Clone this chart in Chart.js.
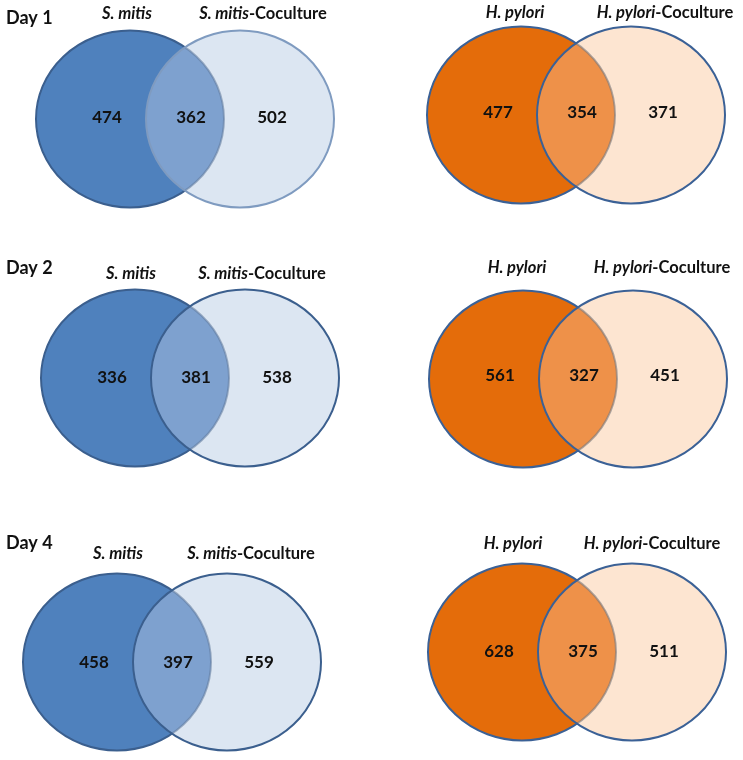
<!DOCTYPE html>
<html>
<head>
<meta charset="utf-8">
<script src="https://cdn.jsdelivr.net/npm/chart.js@4.4.0/dist/chart.umd.min.js"></script>
<style>
  html, body { margin: 0; padding: 0; background: #fff; }
  canvas { display: block; }
</style>
</head>
<body>
<canvas id="venn" width="743" height="760"></canvas>
<script>
// counts per day (Day 1, Day 2, Day 4)
const days = ['Day 1', 'Day 2', 'Day 4'];
const organisms = ['S. mitis', 'H. pylori'];
const mitisOnly = [474, 336, 458];
const mitisShared = [362, 381, 397];
const mitisCocultureOnly = [502, 538, 559];
const pyloriOnly = [477, 561, 628];
const pyloriShared = [354, 327, 375];
const pyloriCocultureOnly = [371, 451, 511];

// panel placement (page pixels), one per day x organism
const panels = [
  {day: 0, org: 0, cx: 130, cy: 119, ty: 14, tx: 127, cox: 263, ny: -1, bStroke: '#7f9bc0'},
  {day: 0, org: 1, cx: 521, cy: 115, ty: 13, tx: 515, cox: 665, ny: -2},
  {day: 1, org: 0, cx: 135, cy: 378, ty: 274, tx: 131, cox: 262, ny: 0},
  {day: 1, org: 1, cx: 523, cy: 379, ty: 268, tx: 517, cox: 662, ny: -3},
  {day: 2, org: 0, cx: 117, cy: 662, ty: 554, tx: 118, cox: 251, ny: 1},
  {day: 2, org: 1, cx: 522, cy: 652, ty: 544, tx: 513, cox: 652, ny: 0},
];
const dayLabelY = [18, 268, 543];
const RX = 94, RY = 88.5, DX = 110;

const palette = [
  {a: '#4f81bd', b: '#dce6f2', i: '#7ea1cf', stroke: '#3b5f8e', inner: 'rgba(95,120,155,0.55)'},
  {a: '#e46c0a', b: '#fde5d1', i: '#ee9149', stroke: '#3b6196', inner: 'rgba(120,120,125,0.6)'},
];

function countsFor(p) {
  if (p.org === 0) return [mitisOnly[p.day], mitisShared[p.day], mitisCocultureOnly[p.day]];
  return [pyloriOnly[p.day], pyloriShared[p.day], pyloriCocultureOnly[p.day]];
}

const circlePoints = [];
const labelPoints = [];
panels.forEach((p, k) => {
  circlePoints.push({x: p.cx, y: p.cy, panel: k, side: 0});
  circlePoints.push({x: p.cx + DX, y: p.cy, panel: k, side: 1});
  const c = countsFor(p);
  [-23, 61, 142].forEach((off, j) => {
    labelPoints.push({x: p.cx + off, y: p.cy + p.ny, v: c[j]});
  });
});

function ellipse(ctx, chart, pt) {
  const xs = chart.scales.x, ys = chart.scales.y;
  const px = xs.getPixelForValue(pt.x), py = ys.getPixelForValue(pt.y);
  const rx = xs.getPixelForValue(pt.x + RX) - px;
  const ry = ys.getPixelForValue(pt.y + RY) - py;
  ctx.beginPath();
  ctx.ellipse(px, py, Math.abs(rx), Math.abs(ry), 0, 0, Math.PI * 2);
}

const vennPlugin = {
  id: 'venn',
  beforeDatasetsDraw(chart) {
    const ctx = chart.ctx;
    const circles = chart.data.datasets[0].data;
    for (let k = 0; k < panels.length; k++) {
      const p = panels[k];
      const col = palette[p.org];
      const A = circles[2 * k], B = circles[2 * k + 1];
      ctx.save();
      ctx.lineWidth = 2;
      ellipse(ctx, chart, A); ctx.fillStyle = col.a; ctx.fill();
      ellipse(ctx, chart, B); ctx.fillStyle = col.b; ctx.fill();
      // overlap
      ctx.save();
      ellipse(ctx, chart, A); ctx.clip();
      ellipse(ctx, chart, B); ctx.fillStyle = col.i; ctx.fill();
      ctx.restore();
      // outlines: first circle's arc outside B dark, inside B muted
      ctx.save();
      ellipse(ctx, chart, B);
      ctx.rect(chart.width, 0, -chart.width, chart.height);
      ctx.clip('evenodd');
      ellipse(ctx, chart, A); ctx.strokeStyle = col.stroke; ctx.stroke();
      ctx.restore();
      ctx.save();
      ellipse(ctx, chart, B); ctx.clip();
      ellipse(ctx, chart, A); ctx.strokeStyle = col.inner; ctx.stroke();
      ctx.restore();
      ellipse(ctx, chart, B); ctx.strokeStyle = p.bStroke || col.stroke; ctx.stroke();
      ctx.restore();
    }
  },
  afterDatasetsDraw(chart) {
    const ctx = chart.ctx;
    const xs = chart.scales.x, ys = chart.scales.y;
    ctx.save();
    ctx.fillStyle = '#111';
    ctx.textBaseline = 'middle';
    // counts
    ctx.font = 'bold 17px Lato';
    ctx.textAlign = 'center';
    const meta = chart.getDatasetMeta(1);
    meta.data.forEach((el, i) => {
      ctx.fillText(String(chart.data.datasets[1].data[i].v), el.x, el.y);
    });
    // day labels
    ctx.textAlign = 'left';
    ctx.font = 'bold 18px Lato';
    days.forEach((d, i) => ctx.fillText(d, xs.getPixelForValue(6), ys.getPixelForValue(dayLabelY[i])));
    // set titles
    const tf = 16.5;
    panels.forEach(p => {
      const name = organisms[p.org];
      const y = ys.getPixelForValue(p.ty);
      ctx.textAlign = 'center';
      ctx.font = 'italic bold ' + tf + 'px Lato';
      ctx.fillText(name, xs.getPixelForValue(p.tx), y);
      const suffix = '-Coculture';
      const w1 = ctx.measureText(name).width;
      ctx.font = 'bold ' + tf + 'px Lato';
      const w2 = ctx.measureText(suffix).width;
      const x0 = xs.getPixelForValue(p.cox) - (w1 + w2) / 2;
      ctx.textAlign = 'left';
      ctx.font = 'italic bold ' + tf + 'px Lato';
      ctx.fillText(name, x0, y);
      ctx.font = 'bold ' + tf + 'px Lato';
      ctx.fillText(suffix, x0 + w1, y);
    });
    ctx.restore();
  }
};

new Chart(document.getElementById('venn'), {
  type: 'scatter',
  data: {
    datasets: [
      {label: 'circles', data: circlePoints, pointRadius: 0, showLine: false},
      {label: 'counts', data: labelPoints, pointRadius: 0, showLine: false},
    ]
  },
  options: {
    responsive: false,
    animation: false,
    events: [],
    layout: {padding: 0},
    scales: {
      x: {type: 'linear', min: 0, max: 743, display: false},
      y: {type: 'linear', min: 0, max: 760, reverse: true, display: false},
    },
    plugins: {legend: {display: false}, tooltip: {enabled: false}},
  },
  plugins: [vennPlugin],
});
</script>
</body>
</html>
